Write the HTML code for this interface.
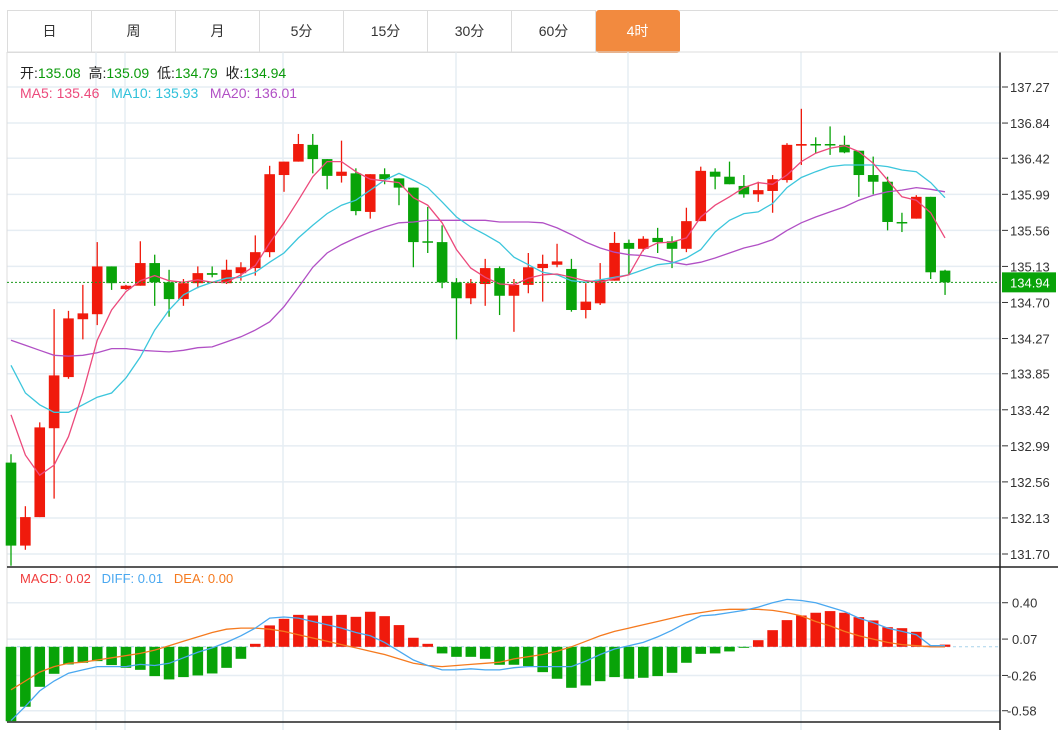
<!DOCTYPE html>
<html><head><meta charset="utf-8">
<style>
body{margin:0;background:#fff;width:1058px;height:730px;overflow:hidden;font-family:"Liberation Sans","Noto Sans CJK SC",sans-serif;}
#tabs{position:absolute;left:7px;top:10px;height:42px;display:flex;}
.tab{width:83px;height:41px;border:1px solid #dcdcdc;border-left:none;line-height:41px;text-align:center;font-size:14px;color:#333;}
.tab:first-child{border-left:1px solid #dcdcdc;}
.tab.active{background:#f28a3f;color:#fff;border-color:#f28a3f;border-radius:3px;}
#topline{position:absolute;left:679px;top:10px;width:379px;height:0;border-top:1px solid #dcdcdc;}
svg{position:absolute;left:0;top:0;}
</style></head>
<body>
<div id="tabs">
<div class="tab">日</div>
<div class="tab">周</div>
<div class="tab">月</div>
<div class="tab">5分</div>
<div class="tab">15分</div>
<div class="tab">30分</div>
<div class="tab">60分</div>
<div class="tab active">4时</div>
</div>
<div id="topline"></div>
<svg id="chart" width="1058" height="730"></svg>
<script>
const opens=[132.79,131.80,132.14,133.20,133.81,134.50,134.56,135.13,134.86,134.90,135.17,134.94,134.74,134.93,135.05,134.93,135.05,135.11,135.30,136.22,136.38,136.58,136.41,136.21,136.24,135.78,136.23,136.18,136.07,135.43,135.42,134.94,134.75,134.92,135.11,134.78,134.91,135.11,135.15,135.10,134.61,134.69,134.96,135.41,135.34,135.47,135.43,135.34,135.67,136.26,136.20,136.09,135.99,136.03,136.16,136.57,136.59,136.59,136.58,136.51,136.22,136.14,135.66,135.70,135.96,135.08];
const highs=[132.89,132.27,133.27,134.62,134.60,134.91,135.42,135.13,134.91,135.43,135.27,135.09,134.98,135.13,135.13,135.21,135.18,135.50,136.33,136.38,136.71,136.71,136.41,136.63,136.30,136.23,136.30,136.18,136.07,135.84,135.62,134.99,134.98,135.22,135.13,134.98,135.29,135.27,135.40,135.22,134.93,135.17,135.54,135.45,135.49,135.59,135.49,135.83,136.32,136.30,136.38,136.22,136.14,136.22,136.60,137.01,136.67,136.80,136.69,136.51,136.44,136.20,135.77,135.98,135.96,135.09];
const lows=[131.56,131.75,132.14,132.36,133.79,134.26,134.43,134.85,134.85,134.90,134.66,134.53,134.66,134.87,135.00,134.92,134.96,135.02,135.24,136.02,136.38,136.24,136.05,136.13,135.74,135.70,136.11,135.86,135.12,135.29,134.87,134.26,134.68,134.66,134.55,134.35,134.81,134.71,135.12,134.59,134.51,134.67,134.96,135.03,135.31,135.29,135.11,135.30,135.67,136.05,136.11,135.95,135.90,135.77,136.13,136.34,136.48,136.46,136.48,135.96,135.99,135.56,135.54,135.70,134.98,134.79];
const closes=[131.80,132.14,133.21,133.83,134.51,134.57,135.13,134.93,134.90,135.17,134.94,134.74,134.93,135.05,135.03,135.09,135.12,135.30,136.23,136.38,136.59,136.41,136.21,136.26,135.79,136.23,136.17,136.07,135.42,135.42,134.94,134.75,134.93,135.11,134.78,134.91,135.12,135.16,135.19,134.61,134.71,134.97,135.41,135.34,135.46,135.42,135.34,135.67,136.27,136.20,136.11,135.99,136.04,136.17,136.58,136.59,136.58,136.58,136.49,136.22,136.14,135.66,135.65,135.96,135.06,134.94];
const ma5=[133.36,132.88,132.64,132.76,133.10,133.62,134.25,134.61,134.83,134.96,135.02,134.96,134.94,134.97,134.94,134.94,135.03,135.14,135.41,135.65,135.92,136.20,136.38,136.38,136.26,136.17,136.15,136.13,135.95,135.86,135.65,135.33,135.11,135.00,134.92,134.91,134.99,135.03,135.04,135.00,134.96,134.94,134.99,135.03,135.33,135.41,135.42,135.47,135.72,135.86,135.96,136.07,136.13,136.11,136.22,136.38,136.48,136.54,136.57,136.50,136.36,136.16,135.96,135.92,135.77,135.47];
const ma10=[133.95,133.62,133.48,133.39,133.39,133.48,133.57,133.62,133.80,134.05,134.37,134.61,134.79,134.88,134.94,134.99,135.00,135.06,135.18,135.29,135.47,135.62,135.76,135.86,135.92,136.04,136.16,136.24,136.16,136.07,135.90,135.72,135.60,135.51,135.41,135.24,135.15,135.06,135.03,134.96,134.94,134.97,135.00,135.03,135.09,135.15,135.17,135.23,135.33,135.54,135.68,135.76,135.78,135.88,136.07,136.19,136.26,136.32,136.34,136.34,136.34,136.32,136.28,136.26,136.13,135.95];
const ma20=[134.25,134.19,134.13,134.07,134.06,134.07,134.10,134.15,134.15,134.13,134.12,134.11,134.13,134.16,134.17,134.23,134.29,134.37,134.47,134.65,134.88,135.12,135.29,135.39,135.47,135.54,135.60,135.65,135.66,135.68,135.68,135.68,135.68,135.68,135.66,135.66,135.66,135.65,135.59,135.51,135.42,135.35,135.30,135.27,135.26,135.23,135.18,135.15,135.18,135.23,135.29,135.35,135.39,135.45,135.56,135.65,135.72,135.78,135.84,135.92,135.98,136.02,136.04,136.07,136.05,136.02];
const macdHist=[-0.675,-0.544,-0.363,-0.245,-0.160,-0.145,-0.130,-0.166,-0.191,-0.209,-0.266,-0.296,-0.275,-0.260,-0.242,-0.191,-0.109,0.027,0.194,0.254,0.290,0.284,0.281,0.290,0.272,0.318,0.278,0.197,0.082,0.027,-0.060,-0.091,-0.091,-0.109,-0.163,-0.163,-0.175,-0.230,-0.290,-0.372,-0.351,-0.312,-0.275,-0.290,-0.281,-0.266,-0.236,-0.145,-0.064,-0.060,-0.042,-0.009,0.060,0.151,0.242,0.284,0.309,0.324,0.309,0.269,0.239,0.178,0.169,0.136,0.01,0.02];
const diff=[-0.67,-0.54,-0.40,-0.31,-0.24,-0.21,-0.18,-0.18,-0.18,-0.16,-0.17,-0.15,-0.10,-0.05,-0.01,0.04,0.10,0.17,0.26,0.27,0.26,0.23,0.20,0.17,0.13,0.10,0.04,-0.04,-0.12,-0.17,-0.21,-0.21,-0.20,-0.21,-0.21,-0.19,-0.18,-0.18,-0.18,-0.18,-0.13,-0.07,-0.02,0.01,0.04,0.09,0.15,0.22,0.28,0.29,0.31,0.33,0.36,0.40,0.43,0.42,0.40,0.36,0.32,0.26,0.22,0.17,0.14,0.11,0.01,0.01];
const dea=[-0.39,-0.31,-0.23,-0.18,-0.15,-0.14,-0.12,-0.10,-0.08,-0.06,-0.03,0.01,0.05,0.09,0.13,0.16,0.17,0.17,0.16,0.14,0.11,0.08,0.05,0.02,-0.01,-0.04,-0.07,-0.11,-0.15,-0.17,-0.18,-0.17,-0.16,-0.15,-0.14,-0.11,-0.09,-0.07,-0.04,0.00,0.05,0.10,0.14,0.17,0.20,0.23,0.26,0.29,0.31,0.33,0.34,0.34,0.34,0.33,0.31,0.28,0.23,0.19,0.14,0.10,0.07,0.04,0.02,0.01,0.00,0.00];
const priceTicks=["137.27","136.84","136.42","135.99","135.56","135.13","134.70","134.27","133.85","133.42","132.99","132.56","132.13","131.70"];
const macdTicks=["0.40","0.07","-0.26","-0.58"];
const lastPrice=134.94;

const NS="http://www.w3.org/2000/svg";
const svg=document.getElementById('chart');
function mk(tag,attrs,parent){const e=document.createElementNS(NS,tag);for(const k in attrs)e.setAttribute(k,attrs[k]);(parent||svg).appendChild(e);return e;}
const xOf=i=>11+i*14.37;
const yP=p=>87+(137.27-p)*83.84;
const yM=v=>646.8-v*110.2;
const RED="#f01a0c",GREEN="#08a308";

// grids
priceTicks.forEach(t=>{const y=yP(+t);
 const g=mk('line',{x1:7,x2:1000,y1:y,y2:y,stroke:'#e6edf3','stroke-width':1.5});
 
 
 const tk=mk('line',{x1:1002,x2:1008,y1:y,y2:y,stroke:'#333'});
 
 
 const tx=mk('text',{x:1010,y:y+5,'font-size':13,fill:'#333'});tx.textContent=t;
 
 
});
macdTicks.forEach(t=>{const y=yM(+t);
 const g=mk('line',{x1:7,x2:1000,y1:y,y2:y,stroke:'#e6edf3','stroke-width':1.5});
 
 
 const tk=mk('line',{x1:1002,x2:1008,y1:y,y2:y,stroke:'#333'});
 
 
 const tx=mk('text',{x:t[0]=='-'?1007:1012,y:y+5,'font-size':13,fill:'#333'});tx.textContent=t;
 
 
});
[96,125,283,456,628,801].forEach(x=>{
 const v=mk('line',{x1:x,x2:x,y1:52,y2:730,stroke:'#e6edf3','stroke-width':1.5});
 
 
});
[[7,52,7,722],[1000,52,1000,730],[7,567,1058,567],[7,722,1000,722],[7,52,1058,52]].forEach((l,k)=>{
 const a=mk('line',{x1:l[0],y1:l[1],x2:l[2],y2:l[3],stroke:k==0||k==4?'#dcdcdc':'#222','stroke-width':k==0||k==4?1:1.5});
 
 
});

// candles
opens.forEach((o,i)=>{const c=closes[i];const col=c>o?RED:GREEN;const x=xOf(i);
 const w=mk('line',{x1:x,x2:x,y1:yP(highs[i]),y2:yP(lows[i]),stroke:col,'stroke-width':1.3});
 
 
 const top=Math.min(yP(o),yP(c));const h=Math.max(1.5,Math.abs(yP(o)-yP(c)));
 const b=mk('rect',{x:x-5.3,y:top,width:10.6,height:h,fill:col});
 
 
});
function line(arr,fy,col,name){const d=arr.map((v,i)=>(i?'L':'M')+xOf(i).toFixed(1)+' '+fy(v).toFixed(1)).join(' ');
 const p=mk('path',{d:d,fill:'none',stroke:col,'stroke-width':1.3});
 
 }
line(ma20,yP,'#b150c5','ma20-line');
line(ma10,yP,'#3cc6dc','ma10-line');
line(ma5,yP,'#ec4a7c','ma5-line');

// last price
const ly=yP(lastPrice);
const dl=mk('line',{x1:7,x2:1000,y1:ly,y2:ly,stroke:'#1a9a1a','stroke-dasharray':'2,2'});


const lr=mk('rect',{x:1002,y:ly-10,width:54,height:20,fill:'#08a308'});


const lt=mk('text',{x:1010,y:ly+5,'font-size':13,fill:'#fff'});lt.textContent=lastPrice.toFixed(2);



// macd
const zx=mk('line',{x1:xOf(0),x2:1000,y1:yM(0),y2:yM(0),stroke:'#a8d4ec','stroke-dasharray':'3,3'});


macdHist.forEach((v,i)=>{const x=xOf(i);const y0=yM(0),y1=yM(v);
 const r=mk('rect',{x:x-5.3,y:Math.min(y0,y1),width:10.6,height:Math.max(1,Math.abs(y1-y0)),fill:v>=0?RED:GREEN});
 
 
});
line(dea,yM,'#f57a1f','dea-line');
line(diff,yM,'#4aa8f0','diff-line');
</script>
<div style="position:absolute;left:20px;top:63px;font-size:14px;color:#222;white-space:nowrap">开:<span style="color:#0a9a0a">135.08</span>&nbsp; 高:<span style="color:#0a9a0a">135.09</span>&nbsp; 低:<span style="color:#0a9a0a">134.79</span>&nbsp; 收:<span style="color:#0a9a0a">134.94</span></div>
<div style="position:absolute;left:20px;top:85px;font-size:14px;white-space:nowrap"><span style="color:#ec4a7c">MA5: 135.46</span>&nbsp;&nbsp;&nbsp;<span style="color:#2fc1da">MA10: 135.93</span>&nbsp;&nbsp;&nbsp;<span style="color:#b150c5">MA20: 136.01</span></div>
<div style="position:absolute;left:20px;top:571px;font-size:13px;white-space:nowrap"><span style="color:#f03c3c">MACD: 0.02</span>&nbsp;&nbsp;&nbsp;<span style="color:#4aa8f0">DIFF: 0.01</span>&nbsp;&nbsp;&nbsp;<span style="color:#f57a1f">DEA: 0.00</span></div>
</body></html>
